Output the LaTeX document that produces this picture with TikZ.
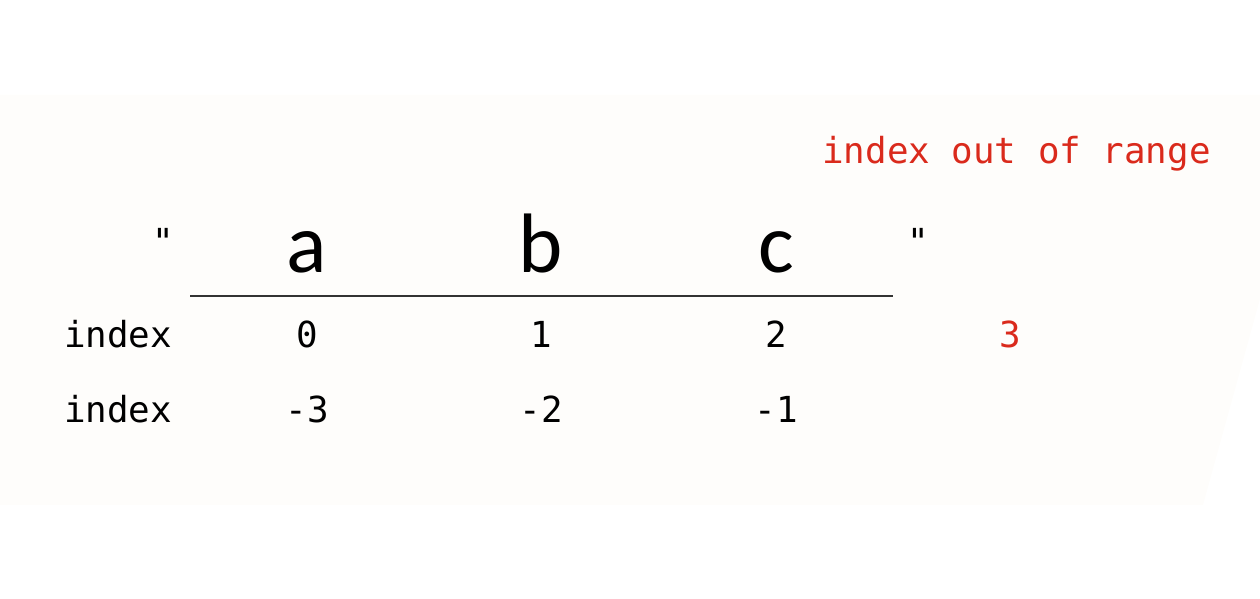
\documentclass[tikz,border=0pt]{standalone}
\usepackage{fontspec}
\setmonofont{DejaVu Sans Mono}
\newfontfamily\letterfont{Carlito}
\definecolor{errred}{RGB}{218,42,28}
\definecolor{bandbg}{RGB}{254,253,251}
\tikzset{
  idx/.style={font=\ttfamily\fontsize{20.4}{24}\selectfont, anchor=base, inner sep=0pt},
  chr/.style={font=\letterfont\fontsize{48}{56}\selectfont, anchor=base, inner sep=0pt},
  qt/.style={font=\ttfamily\fontsize{20.4}{24}\selectfont, inner sep=0pt},
}
\begin{document}
\begin{tikzpicture}[scale=1]
        \useasboundingbox (0,0) rectangle (25.2,11.98);
        % Background band
        \fill[bandbg] (0,1.88) -- (0,10.08) -- (25.2,10.08) -- (25.2,6.0) -- (24.06,1.88) -- cycle;

        % String
        % Define the nodes
        \node[qt] (q1) at (3.26,7.16) {"};
        \node[chr] (a) at (6.14,6.52) {a};
        \node[chr] (b) at (10.82,6.52) {b};
        \node[chr] (c) at (15.52,6.52) {c};
        \node[qt] (q2) at (18.36,7.16) {"};
        % Underline
        \coordinate (l) at (3.8,6.06);
        \coordinate (r) at (17.86,6.06);
        \draw[line width=1.4pt, black!80] (l) -- (r);

        % Positive index
        \node[idx] (p) at (2.36,5.02) {index};
        \node[idx] (p0) at (6.14,5.02) {0};
        \node[idx] (p1) at (10.82,5.02) {1};
        \node[idx] (p2) at (15.52,5.02) {2};
        \node[idx, errred] (p3) at (20.2,5.02) {3};

        % Negative index
        \node[idx] (n) at (2.36,3.52) {index};
        \node[idx] (n3) at (6.14,3.52) {-3};
        \node[idx] (n2) at (10.82,3.52) {-2};
        \node[idx] (n1) at (15.52,3.52) {-1};

        % Error
        \node[idx, errred] (err) at (20.33,8.7) {index out of range};
    \end{tikzpicture}
\end{document}
